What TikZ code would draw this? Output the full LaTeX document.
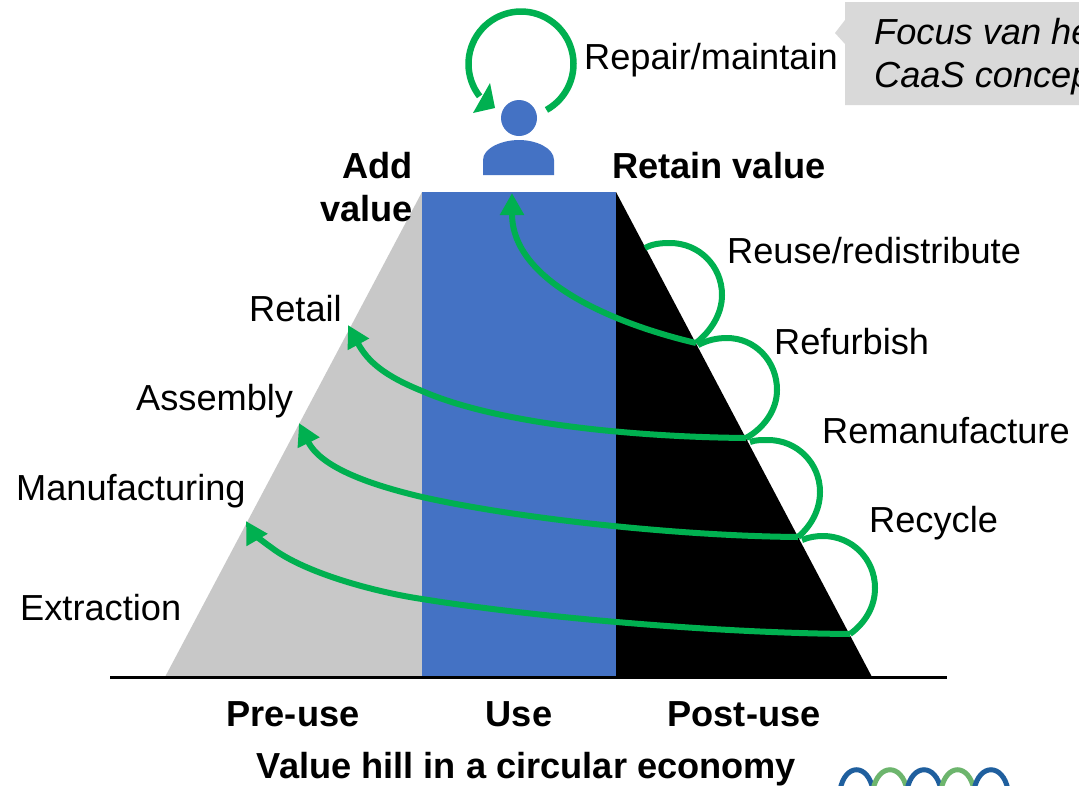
\documentclass[tikz,border=0pt]{standalone}
\usepackage{fontspec}
\setmainfont{Liberation Sans}
\usetikzlibrary{arrows.meta}
\definecolor{hillgray}{HTML}{C8C8C8}
\definecolor{useblue}{HTML}{4472C4}
\definecolor{loopgreen}{HTML}{00B050}
\definecolor{callgray}{HTML}{D9D9D9}
\definecolor{logoblue}{HTML}{1F5F9E}
\definecolor{logogreen}{HTML}{6DB56D}
\tikzset{
  lab/.style={anchor=base west,inner sep=0pt,font=\fontsize{36.2}{42}\selectfont},
  blab/.style={lab,font=\fontsize{36.2}{42}\selectfont\bfseries},
  blabr/.style={blab,anchor=base east},
  blabc/.style={blab,anchor=base},
  ilab/.style={lab,font=\fontsize{36.2}{42}\selectfont\itshape},
  gline/.style={draw=loopgreen,line width=6pt},
  garrow/.style={gline,-{Triangle[length=22pt,width=23pt]}},
  logoarc/.style={line width=5pt}
}
\begin{document}
\begin{tikzpicture}[x=1pt,y=-1pt]
\useasboundingbox (0,0) rectangle (1079,785);
\begin{scope}
\clip (0,0) rectangle (1079,785);
\fill[white] (0,0) rectangle (1079,785);
% hill
\fill[hillgray] (165,677) -- (422,192) -- (422,677) -- cycle;
\fill[black] (616,192) -- (872,677) -- (616,677) -- cycle;
\fill[useblue] (422,192) rectangle (616,677);
\coordinate (axl) at (110,677);
\coordinate (axr) at (947,677);
\draw[line width=3pt] (axl) -- (axr);
% callout
\fill[callgray] (845,2) -- (1079,2) -- (1079,105) -- (845,105) -- (845,44) -- (835,33) -- (845,20) -- cycle;
\node[ilab] (focus1) at (874,44) {Focus van he};
\node[ilab] (focus2) at (874,87) {CaaS concep};
% person
\fill[useblue] (519,118) circle (18);
\fill[useblue] (483,175) -- (483,160) .. controls (483,148) and (502,140) .. (519,140) .. controls (536,140) and (554,148) .. (554,160) -- (554,175) -- cycle;
% repair loop
\draw[gline,line width=6.5pt] plot[domain=61:-218,samples=60,smooth] ({521+52.5*cos(\x)},{64+52.5*sin(\x)});
\fill[loopgreen] (490,83) -- (473,113) -- (495,108) -- cycle;
% loop coordinates
\coordinate (h0) at (645,248);
\coordinate (h1) at (696,343);
\coordinate (h2) at (746,438);
\coordinate (h3) at (798,537);
\coordinate (h4) at (850,634);
\coordinate (t1) at (512,193);
\coordinate (t2) at (348,325);
\coordinate (t3) at (299,423);
\coordinate (t4) at (246,521);
\coordinate (m2) at (422,391);
\coordinate (m3) at (422,497);
\coordinate (m4) at (422,599);
\coordinate (m5) at (272,548);
% semi-circles
\draw[gline] (h0) .. controls (652,244) and (660,243) .. (670,243) .. controls (699,243) and (722,266) .. (722,295) .. controls (722,314) and (711,331) .. (h1);
\draw[gline] (698,345) .. controls (708,340) and (717,338) .. (727,338) .. controls (755,338) and (777,361) .. (777,390) .. controls (777,410) and (764,428) .. (h2);
\draw[gline] (750,442) .. controls (755,440) and (761,440) .. (768,440) .. controls (797,440) and (820,463) .. (820,492) .. controls (820,510) and (811,526) .. (h3);
\draw[gline] (802,540) .. controls (809,537) and (816,536) .. (823,536) .. controls (852,536) and (875,559) .. (875,588) .. controls (875,607) and (865,623) .. (h4);
% long arrows
\draw[garrow] (h1) .. controls (640,330) and (512,290) .. (t1);
\draw[garrow] (h2) .. controls (640,437) and (500,425) .. (m2) .. controls (385,376) and (368,362) .. (t2);
\draw[garrow] (h3) .. controls (680,536) and (520,519) .. (m3) .. controls (380,487) and (322,470) .. (t3);
\draw[garrow] (h4) .. controls (720,633) and (540,618) .. (m4) .. controls (375,592) and (305,573) .. (m5) .. controls (262,541) and (253,533) .. (t4);
% labels
\node[lab] (repair) at (584,69) {Repair/maintain};
\node[blabr] (add) at (413,178) {Add};
\node[blabr] (value) at (413,221) {value};
\node[blab] (retain) at (612,178) {Retain value};
\node[lab] (reuse) at (727,263) {Reuse/redistribute};
\node[lab] (refurb) at (774,354) {Refurbish};
\node[lab] (reman) at (822,443) {Remanufacture};
\node[lab] (recycle) at (869,532) {Recycle};
\node[lab] (retail) at (249,321) {Retail};
\node[lab] (assembly) at (136,410) {Assembly};
\node[lab] (manuf) at (16,500) {Manufacturing};
\node[lab] (extract) at (20,620) {Extraction};
\node[blabc] (pre) at (293,726) {Pre-use};
\node[blabc] (use) at (519,726) {Use};
\node[blabc] (post) at (744,726) {Post-use};
\node[blabc] (title) at (526.5,778) {Value hill in a circular economy};
% logo
\draw[logoarc,logoblue] (840,790) .. controls (845,763) and (868,763) .. (873,790);
\draw[logoarc,logogreen] (873,790) .. controls (878,763) and (902,763) .. (907,790);
\draw[logoarc,logoblue] (907,790) .. controls (912,763) and (936,763) .. (941,790);
\draw[logoarc,logogreen] (941,790) .. controls (946,763) and (969,763) .. (974,790);
\draw[logoarc,logoblue] (974,790) .. controls (979,763) and (1003,763) .. (1008,790);
\end{scope}
\end{tikzpicture}
\end{document}
